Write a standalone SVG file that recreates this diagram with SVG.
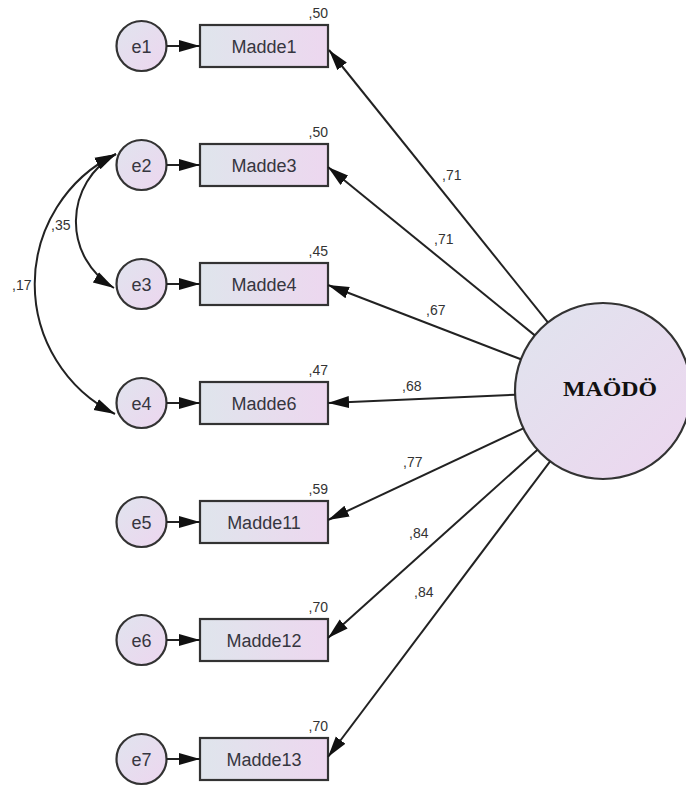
<svg xmlns="http://www.w3.org/2000/svg" width="686" height="790" viewBox="0 0 686 790">
<defs>
<linearGradient id="gBox" x1="0" y1="0" x2="1" y2="0">
<stop offset="0" stop-color="#dfe5ec"/>
<stop offset="1" stop-color="#edd7ef"/>
</linearGradient>
<linearGradient id="gCirc" x1="0" y1="0" x2="1" y2="1">
<stop offset="0" stop-color="#e0e4ee"/>
<stop offset="1" stop-color="#edd6ef"/>
</linearGradient>
<marker id="ah" markerUnits="userSpaceOnUse" markerWidth="22" markerHeight="14" viewBox="0 0 22 14" refX="21" refY="7" orient="auto-start-reverse">
<path d="M0,1 L21,7 L0,13 z" fill="#111"/>
</marker>
<style>
.box{fill:url(#gBox);stroke:#333;stroke-width:2.2}
.err{fill:url(#gCirc);stroke:#333;stroke-width:2.2}
.lbl{font-family:"Liberation Sans",Arial,sans-serif;font-size:18px;fill:#363640;text-anchor:middle}
.num{font-family:"Liberation Sans",Arial,sans-serif;font-size:14px;fill:#333}
.r2{text-anchor:end}
.conn path,.conn line{stroke:#222;stroke-width:2;fill:none}
</style>
</defs>
<rect width="686" height="790" fill="#fff"/>

<g id="MAODO">
<circle cx="603" cy="391" r="88" fill="url(#gCirc)" stroke="#333" stroke-width="2.2"/>
<text x="610" y="396" font-family="'Liberation Serif','Times New Roman',serif" font-weight="bold" font-size="22" text-anchor="middle" textLength="94" lengthAdjust="spacingAndGlyphs" fill="#111">MAÖDÖ</text>
</g>

<g id="e1"><circle class="err" cx="141.5" cy="46" r="25"/><text class="lbl" x="141.5" y="52.5">e1</text></g>
<g id="e2"><circle class="err" cx="141.5" cy="165" r="25"/><text class="lbl" x="141.5" y="171.5">e2</text></g>
<g id="e3"><circle class="err" cx="141.5" cy="284" r="25"/><text class="lbl" x="141.5" y="290.5">e3</text></g>
<g id="e4"><circle class="err" cx="141.5" cy="403" r="25"/><text class="lbl" x="141.5" y="409.5">e4</text></g>
<g id="e5"><circle class="err" cx="141.5" cy="522" r="25"/><text class="lbl" x="141.5" y="528.5">e5</text></g>
<g id="e6"><circle class="err" cx="141.5" cy="640" r="25"/><text class="lbl" x="141.5" y="646.5">e6</text></g>
<g id="e7"><circle class="err" cx="141.5" cy="759" r="25"/><text class="lbl" x="141.5" y="765.5">e7</text></g>

<g id="Madde1"><rect class="box" x="200" y="25" width="128" height="42"/><text class="lbl" x="264" y="52.5">Madde1</text><text class="num r2" x="328" y="18">,50</text></g>
<g id="Madde3"><rect class="box" x="200" y="144" width="128" height="42"/><text class="lbl" x="264" y="171.5">Madde3</text><text class="num r2" x="328" y="137">,50</text></g>
<g id="Madde4"><rect class="box" x="200" y="263" width="128" height="42"/><text class="lbl" x="264" y="290.5">Madde4</text><text class="num r2" x="328" y="256">,45</text></g>
<g id="Madde6"><rect class="box" x="200" y="382" width="128" height="42"/><text class="lbl" x="264" y="409.5">Madde6</text><text class="num r2" x="328" y="375">,47</text></g>
<g id="Madde11"><rect class="box" x="200" y="501" width="128" height="42"/><text class="lbl" x="264" y="528.5">Madde11</text><text class="num r2" x="328" y="494">,59</text></g>
<g id="Madde12"><rect class="box" x="200" y="619" width="128" height="42"/><text class="lbl" x="264" y="646.5">Madde12</text><text class="num r2" x="328" y="612">,70</text></g>
<g id="Madde13"><rect class="box" x="200" y="738" width="128" height="42"/><text class="lbl" x="264" y="765.5">Madde13</text><text class="num r2" x="328" y="731">,70</text></g>

<g id="connectors" class="conn">
<line x1="166.5" y1="46" x2="200" y2="46" marker-end="url(#ah)"/>
<line x1="166.5" y1="165" x2="200" y2="165" marker-end="url(#ah)"/>
<line x1="166.5" y1="284" x2="200" y2="284" marker-end="url(#ah)"/>
<line x1="166.5" y1="403" x2="200" y2="403" marker-end="url(#ah)"/>
<line x1="166.5" y1="522" x2="200" y2="522" marker-end="url(#ah)"/>
<line x1="166.5" y1="640" x2="200" y2="640" marker-end="url(#ah)"/>
<line x1="166.5" y1="759" x2="200" y2="759" marker-end="url(#ah)"/>

<line x1="547.9" y1="322.4" x2="329" y2="50" marker-end="url(#ah)"/>
<line x1="534.8" y1="335.4" x2="328" y2="167" marker-end="url(#ah)"/>
<line x1="520.9" y1="359.3" x2="328" y2="285" marker-end="url(#ah)"/>
<line x1="515.1" y1="394.8" x2="328" y2="403" marker-end="url(#ah)"/>
<line x1="523.3" y1="428.4" x2="328" y2="520" marker-end="url(#ah)"/>
<line x1="537.5" y1="449.8" x2="328" y2="638" marker-end="url(#ah)"/>
<line x1="550.1" y1="461.4" x2="328" y2="757" marker-end="url(#ah)"/>

<path d="M116,154 A77,77 0 0 0 114,288" marker-start="url(#ah)" marker-end="url(#ah)"/>
<path d="M116,154 A145,145 0 0 0 115,414" marker-start="url(#ah)" marker-end="url(#ah)"/>
</g>

<g id="labels">
<text class="num" x="442" y="180">,71</text>
<text class="num" x="434" y="244">,71</text>
<text class="num" x="426" y="315">,67</text>
<text class="num" x="402" y="391">,68</text>
<text class="num" x="403" y="467">,77</text>
<text class="num" x="409" y="538">,84</text>
<text class="num" x="414" y="597">,84</text>
<text class="num" x="51" y="230">,35</text>
<text class="num" x="12" y="290">,17</text>
</g>
</svg>
